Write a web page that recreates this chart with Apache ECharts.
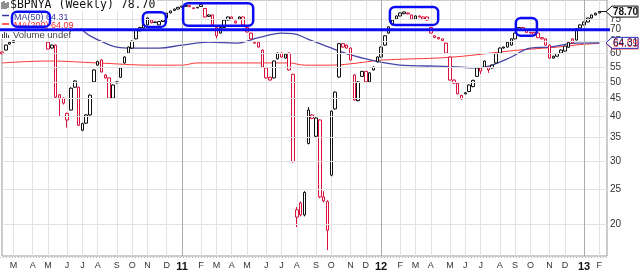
<!DOCTYPE html>
<html><head><meta charset="utf-8">
<script src="https://cdn.jsdelivr.net/npm/echarts@6/dist/echarts.min.js"></script>
<style>html,body{margin:0;padding:0;background:#fff}#c{width:640px;height:270px}</style>
</head><body><div id="c"></div>
<script>
// ---- data ----
const startDate = Date.UTC(2010, 1, 12);   // first weekly bar (week ending Friday)
const weekCount = 159;                     // categories incl. two empty slots at the right
const opens = [60.6,61.4,63.8,64.5,66.2,68.0,69.5,71.0,72.5,73.8,
75.0,74.0,64.6,62.2,63.4,46.0,45.0,40.8,41.7,50.3,
48.3,36.6,38.3,40.4,50.0,55.7,57.6,52.3,51.3,45.0,
49.7,51.5,56.5,60.2,62.2,66.0,69.5,70.8,72.2,74.5,
73.3,72.2,73.8,75.5,78.0,79.3,80.0,81.0,81.4,81.8,
80.2,80.6,81.3,80.3,76.3,77.0,71.0,68.5,71.0,74.5,
76.0,73.1,75.0,76.0,71.0,68.5,64.6,64.6,61.4,54.7,
51.5,51.3,58.0,60.2,58.3,60.2,52.5,20.9,22.9,21.2,
33.6,40.4,35.2,39.1,23.8,19.2,27.4,42.0,51.6,64.0,
63.4,62.2,52.3,44.3,51.8,53.5,50.0,54.0,56.9,58.7,
63.4,68.5,72.2,75.0,76.5,77.6,78.0,77.0,75.0,76.5,
76.0,76.0,71.0,67.3,66.6,66.0,64.2,58.7,50.6,49.6,
44.8,46.3,47.0,48.5,51.8,54.7,55.0,55.0,54.7,56.5,
60.2,62.2,62.6,63.4,66.0,70.0,71.0,70.0,68.8,68.8,
68.5,66.5,66.0,63.4,58.3,59.0,60.2,61.0,62.5,66.0,
65.5,70.8,72.2,73.6,75.5,77.0,78.0];
const closes = [60.0,63.4,64.5,65.2,68.0,69.5,71.0,72.5,73.8,75.0,
74.0,67.0,61.8,63.4,45.3,45.0,43.6,39.1,48.0,48.3,
37.8,38.2,40.4,45.9,54.0,57.0,53.3,51.3,45.0,49.0,
50.0,54.7,58.7,62.6,65.0,69.9,71.0,72.5,75.5,73.2,
73.6,73.8,74.6,77.9,79.0,80.0,80.9,81.5,81.8,81.2,
80.6,80.9,82.3,76.0,77.0,72.2,67.3,71.0,74.5,76.0,
75.0,74.0,76.0,72.2,69.0,66.0,64.2,62.6,55.0,51.3,
50.6,57.2,60.2,58.7,59.8,54.0,29.9,21.9,21.2,24.5,
41.7,39.5,39.6,23.8,23.2,23.1,41.4,46.8,64.0,62.6,
62.2,57.6,44.5,50.0,53.5,50.0,53.0,55.0,58.7,62.6,
67.3,71.3,74.5,76.5,78.0,78.5,77.5,75.0,76.5,76.0,
75.0,74.5,68.5,66.6,66.0,65.2,60.2,50.6,49.6,46.3,
45.8,46.6,49.0,50.5,54.7,53.6,57.2,54.0,55.7,60.0,
62.2,62.6,64.6,66.0,68.5,71.0,70.0,68.8,68.5,68.0,
66.5,66.0,63.4,58.3,59.0,60.0,61.4,63.0,64.5,64.3,
70.5,72.2,73.6,75.5,77.0,77.9,78.7];
const lows = [59.7,61.2,63.6,64.3,66.2,67.8,69.3,70.8,72.3,73.6,
73.8,66.8,61.6,62.0,45.0,40.0,43.2,37.2,41.5,48.1,
37.6,36.4,38.1,40.2,49.8,55.5,53.1,51.1,44.8,44.8,
49.5,51.3,56.3,60.0,62.0,65.8,69.3,70.6,72.0,73.0,
73.1,72.0,73.6,75.3,77.8,79.1,79.8,80.8,81.2,81.0,
80.0,80.4,81.1,75.8,76.1,72.0,66.2,68.3,70.8,74.3,
74.8,72.9,74.8,72.0,68.8,65.8,64.0,62.4,54.8,51.1,
50.4,51.1,57.8,58.5,58.1,53.8,29.7,19.6,21.0,21.0,
33.4,39.3,35.0,23.6,23.0,16.9,27.2,41.8,51.4,62.4,
62.0,57.4,44.3,44.1,51.6,49.8,49.8,53.8,56.7,58.5,
63.2,68.3,72.0,74.8,76.3,77.4,77.3,74.8,74.8,75.8,
74.8,74.3,68.3,66.4,65.8,65.0,60.0,50.4,49.4,46.1,
44.6,46.1,46.8,48.3,51.6,52.6,54.8,53.0,54.5,56.3,
60.0,62.0,62.4,63.2,65.8,69.8,69.8,68.6,68.3,67.8,
66.3,65.8,63.2,58.1,58.1,58.8,60.0,60.8,62.3,64.1,
65.3,70.6,72.0,73.4,75.3,76.8,77.8];
const highs = [60.8,63.6,64.8,65.4,68.2,69.7,71.2,72.7,74.0,75.2,
75.3,74.2,65.0,63.6,63.6,46.2,45.2,41.0,48.3,50.5,
48.5,38.4,40.6,46.1,54.3,57.3,57.8,52.5,51.5,49.2,
50.2,55.0,59.0,62.8,65.3,70.2,71.3,72.8,75.8,74.7,
73.8,74.0,74.8,78.1,79.2,80.2,81.1,81.7,82.0,82.0,
80.8,81.1,82.5,80.5,77.2,77.2,71.2,71.2,74.7,76.2,
76.2,74.2,76.2,76.2,71.2,68.7,64.8,64.8,61.6,54.9,
51.7,57.4,60.4,60.4,60.0,60.4,52.7,22.3,23.1,24.7,
42.5,40.6,39.8,39.3,24.7,23.3,41.6,47.0,64.3,64.2,
63.6,62.4,52.5,50.2,53.7,53.7,53.2,55.2,58.9,62.8,
67.5,71.5,74.7,76.7,78.2,78.7,78.2,77.2,76.7,76.7,
76.2,76.2,71.2,67.5,66.8,66.2,64.4,58.9,50.8,49.8,
46.0,46.8,49.2,50.7,54.9,54.9,57.4,55.2,55.9,60.2,
62.4,62.8,64.8,66.2,68.7,71.2,71.2,70.2,69.0,69.0,
68.7,66.7,66.2,63.6,59.2,60.2,61.6,63.2,64.7,66.2,
70.7,72.4,73.8,75.7,77.2,78.1,78.9];
// moving averages read at a number of weeks: [weekIndex, value]
const ma50 = [[0,70.0],[6,71.0],[12,72.3],[16,72.2],[20,70.8],[23,67.3],[27,64.2],[30,62.6],[34,62.2],[41,62.2],
[47,63.4],[54,64.6],[61,64.2],[67,66.5],[73,68.5],[76,68.3],[80,65.8],[85,62.8],[90,60.0],[95,58.0],
[100,56.5],[105,55.6],[111,55.4],[117,55.2],[124,54.7],[128,55.7],[133,58.7],[138,62.2],[143,62.6],[150,64.2],[156,64.31]];
const ma200 = [[0,56.5],[12,57.2],[25,56.5],[39,55.7],[47,55.7],[51,56.5],[64,56.5],[75,56.5],[79,55.7],[86,55.7],
[93,56.5],[98,57.4],[103,57.8],[117,58.6],[130,60.6],[135,61.4],[145,62.6],[151,63.6],[156,64.09]];
const yTicks = [20,25,30,35,40,45,50,55,60,65,70,75];
const monthLetters = ['J','F','M','A','M','J','J','A','S','O','N','D'];
const yMin = 16.26, yMax = 84.8;
const refLevel = 70;
const lastClose = '78.70', ma50Last = '64.31', ma200Last = '64.09';
// hand-drawn highlight boxes: [fromWeek, toWeek, topValue, bottomValue]
const highlightBoxes = [[36.8,42.8,78.4,71.3],[47.3,65.6,83.1,71.8],[101.3,113.9,81.1,72.2],[134.2,139.7,75.5,67.3]];

// ---- build ----
const RED = '#d8123c', BLACK = '#111';
const categories = [];
for (let i = 0; i < weekCount; i++) {
  categories.push(new Date(startDate + i * 7 * 86400000).toISOString().slice(0, 10));
}
// first week whose Monday falls in the month (Friday date 5..11)
const isMonthStart = (i) => { const d = +categories[i].slice(8, 10); return d >= 5 && d <= 11; };
const candleData = opens.map((o, i) => {
  const c = closes[i];
  const prev = i > 0 ? closes[i - 1] : o;
  const col = c < prev ? RED : BLACK;
  return { value: [o, c, lows[i], highs[i]],
    itemStyle: { color: '#fff', borderColor: col, color0: col, borderColor0: col } };
});
const yearLines = categories.filter((d, i) => isMonthStart(i) && d.slice(5, 7) === '01').map(d => ({ xAxis: d }));

const chart = echarts.init(document.getElementById('c'));
chart.setOption({
  animation: false,
  backgroundColor: '#fff',
  grid: { left: 2, right: 33, top: 0, bottom: 14, show: true, borderColor: '#999', borderWidth: 1,
    containLabel: false, outerBoundsMode: 'none' },
  xAxis: {
    type: 'category', data: categories, boundaryGap: false,
    axisLine: { show: false }, axisTick: { show: false },
    axisLabel: {
      interval: (i) => isMonthStart(i),
      margin: 5, color: '#333', fontSize: 9, fontFamily: 'Liberation Sans',
      formatter: (v) => {
        const m = +v.slice(5, 7);
        return m === 1 ? '{yr|' + v.slice(2, 4) + '}' : '{mo|' + monthLetters[m - 1] + '}';
      },
      rich: { yr: { fontSize: 11, fontWeight: 'bold', color: '#111', fontFamily: 'Liberation Sans' },
              mo: { fontSize: 9, color: '#333', fontFamily: 'Liberation Sans' } }
    },
    splitLine: { show: true, interval: (i) => isMonthStart(i), lineStyle: { color: '#e2e2e2', width: 1 } }
  },
  yAxis: { type: 'log', logBase: 10, min: yMin, max: yMax, position: 'right',
    axisLine: { show: false }, axisTick: { show: false }, axisLabel: { show: false }, splitLine: { show: false } },
  series: [
    { type: 'line', data: [], z: 1, silent: true,
      markLine: { silent: true, symbol: 'none', animation: false,
        lineStyle: { color: '#e2e2e2', width: 1, type: 'solid' },
        label: { position: 'end', formatter: '{c}', color: '#333', fontSize: 10, fontFamily: 'Liberation Sans', distance: 3 },
        data: yTicks.map(v => ({ yAxis: v })).concat(yearLines.map(d => ({ xAxis: d.xAxis, label: { show: false }, lineStyle: { color: '#aaa', width: 1, type: 'solid' } })))
      } },
    { type: 'line', name: 'MA(200)', data: ma200, z: 2, smooth: 0.4, symbol: 'none', lineStyle: { color: '#ff3535', width: 1 } },
    { type: 'line', name: 'MA(50)', data: ma50, z: 2, smooth: 0.4, symbol: 'none', lineStyle: { color: '#4646a8', width: 1.3 } },
    { type: 'candlestick', data: candleData, z: 3, barWidth: 3, clip: true, itemStyle: { borderWidth: 1 } }
  ]
});

// ---- overlays positioned through the chart's own scales ----
function px(i, v) { return chart.convertToPixel({ gridIndex: 0 }, [i, v]); }
const step = px(1, 50)[0] - px(0, 50)[0];
function xAt(f) { const i = Math.floor(f); return px(i, 50)[0] + (f - i) * step; }
function yAt(v) { return px(0, v)[1]; }
const plotRight = xAt(weekCount - 1);
const BLUE = '#0c0cf2';
const g = [];
// legend rows with white backgrounds
g.push({ type: 'rect', z: 100, shape: { x: 0, y: 0, width: 157, height: 10.5 }, style: { fill: '#fff' } });
g.push({ type: 'rect', z: 100, shape: { x: 0, y: 10.5, width: 69, height: 9.5 }, style: { fill: '#fff' } });
g.push({ type: 'rect', z: 100, shape: { x: 0, y: 20, width: 80, height: 9.5 }, style: { fill: '#fff' } });
g.push({ type: 'rect', z: 100, shape: { x: 0, y: 29.5, width: 74, height: 9.5 }, style: { fill: '#fff' } });
// title icon
[[1.5,2,1,7],[3.5,1,1,8],[5.5,3,1,6],[7.5,2,1,6]].forEach(r => g.push({ type: 'rect', z: 101, shape: { x: r[0], y: r[1], width: r[2], height: r[3] }, style: { fill: '#222' } }));
g.push({ type: 'text', z: 101, style: { x: 10, y: 5.5, text: '$BPNYA (Weekly) ' + lastClose, fill: '#111', font: '11.5px "DejaVu Sans Mono"', textVerticalAlign: 'middle' } });
g.push({ type: 'line', z: 101, shape: { x1: 2, y1: 15.5, x2: 9, y2: 15.5 }, style: { stroke: '#3535a0', lineWidth: 1.5 } });
g.push({ type: 'text', z: 101, style: { x: 14, y: 17.5, text: 'MA(50) ' + ma50Last, fill: '#3a3a9c', font: '9px "Liberation Sans"', textVerticalAlign: 'middle' } });
g.push({ type: 'line', z: 101, shape: { x1: 2, y1: 24, x2: 9, y2: 24 }, style: { stroke: '#ff2a2a', lineWidth: 1.5 } });
g.push({ type: 'text', z: 101, style: { x: 14, y: 26, text: 'MA(200) ' + ma200Last, fill: '#ff2a2a', font: '9px "Liberation Sans"', textVerticalAlign: 'middle' } });
[[2,34,1,4],[4,32,1,6],[6,33,1,5],[8,35,1,3]].forEach(r => g.push({ type: 'rect', z: 101, shape: { x: r[0], y: r[1], width: r[2], height: r[3] }, style: { fill: '#444' } }));
g.push({ type: 'text', z: 101, style: { x: 13, y: 35, text: 'Volume undef', fill: '#444', font: '9.5px "Liberation Sans"', textVerticalAlign: 'middle' } });
// thick blue reference line
const yRef = yAt(refLevel);
g.push({ type: 'line', z: 120, shape: { x1: 0, y1: yRef, x2: plotRight + 3, y2: yRef }, style: { stroke: BLUE, lineWidth: 3 } });
// highlight boxes
highlightBoxes.forEach(b => {
  const x1 = xAt(b[0]), x2 = xAt(b[1]), y1 = yAt(b[2]), y2 = yAt(b[3]);
  g.push({ type: 'rect', z: 130, shape: { x: x1, y: y1, width: x2 - x1, height: y2 - y1, r: 5 }, style: { fill: 'none', stroke: BLUE, lineWidth: 2.5 } });
});
g.push({ type: 'rect', z: 130, shape: { x: 12, y: 11.7, width: 38, height: 15, r: 5 }, style: { fill: 'none', stroke: BLUE, lineWidth: 2.5 } });
// price tags on the right
function tag(valText, stroke, textColor, font) {
  const y = yAt(parseFloat(valText));
  const x0 = plotRight - 1;
  g.push({ type: 'polygon', z: 140, shape: { points: [[x0, y], [x0 + 6, y - 5.5], [x0 + 32, y - 5.5], [x0 + 32, y + 5.5], [x0 + 6, y + 5.5]] },
    style: { fill: '#fff', stroke: stroke, lineWidth: 1 } });
  g.push({ type: 'text', z: 141, style: { x: x0 + 7, y: y + 0.5, text: valText, fill: textColor, font: font, textVerticalAlign: 'middle' } });
}
const lastPt = px(opens.length - 1, parseFloat(lastClose));
g.push({ type: 'line', z: 139, shape: { x1: lastPt[0], y1: lastPt[1], x2: plotRight, y2: lastPt[1] }, style: { stroke: '#111', lineWidth: 1 } });
tag(ma200Last, '#ff2a2a', '#ff2a2a', '10px "Liberation Sans"');
tag(ma50Last, '#3030c0', '#222266', '10px "Liberation Sans"');
tag(lastClose, '#111', '#111', 'bold 10px "Liberation Sans"');
// dotted base line under the plot
g.push({ type: 'line', z: 5, shape: { x1: 0, y1: 257.5, x2: plotRight, y2: 257.5 }, style: { stroke: '#bbb', lineWidth: 1, lineDash: [1, 2] } });
chart.setOption({ graphic: g });
</script>
</body></html>
